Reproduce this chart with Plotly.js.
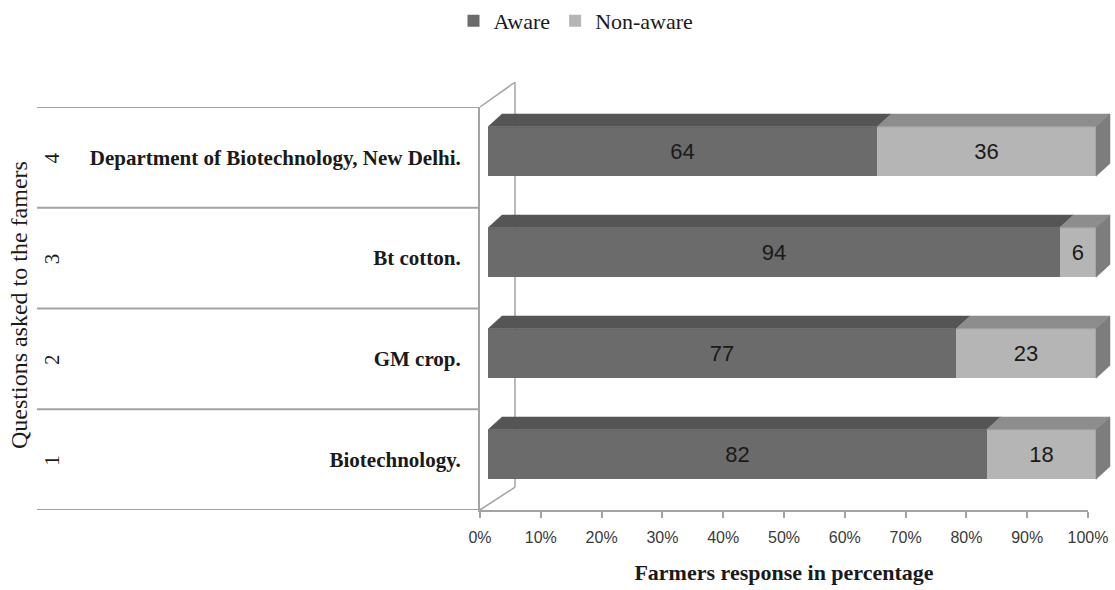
<!DOCTYPE html>
<html>
<head>
<meta charset="utf-8">
<script src="https://cdn.plot.ly/plotly-3.0.1.min.js"></script>
<style>html,body{margin:0;padding:0;background:#fff;}#chart{width:1115px;height:590px;}</style>
</head>
<body>
<div id="chart"></div>
<script>
// ---- data ----
const questionNumbers = ['1', '2', '3', '4'];
const questions = ['Biotechnology.', 'GM crop.', 'Bt cotton.', 'Department of Biotechnology, New Delhi.'];
const aware = [82, 77, 94, 64];
const nonAware = [18, 23, 6, 36];
const seriesNames = ['Aware', 'Non-aware'];
const xTickVals = [0, 10, 20, 30, 40, 50, 60, 70, 80, 90, 100];
const xTickText = ['0%', '10%', '20%', '30%', '40%', '50%', '60%', '70%', '80%', '90%', '100%'];

// ---- style ----
const serif = 'Liberation Serif, Times New Roman, serif';
const sans = 'Liberation Sans, Arial, sans-serif';
const frontDark = '#6b6b6b', topDark = '#555555';
const frontLight = '#b5b5b5', topLight = '#8d8d8d', sideLight = '#7d7d7d';
const gridGray = '#a3a3a3';
const barW = 0.49;      // bar thickness (category units)
const depthX = 2.3;     // 3D depth offset (axis units)
const depthY = 0.127;

const pos = questions.map((_, i) => i);
const totals = aware.map((a, i) => a + nonAware[i]);

function quadTrace(buildFn, color) {
  const xs = [], ys = [];
  pos.forEach(i => {
    const q = buildFn(i);
    q.forEach(p => { xs.push(p[0]); ys.push(p[1]); });
    xs.push(q[0][0]); ys.push(q[0][1]);
    xs.push(null); ys.push(null);
  });
  return {
    type: 'scatter', mode: 'lines', x: xs, y: ys, xaxis: 'x2', yaxis: 'y2',
    fill: 'toself', fillcolor: color, line: {color: color, width: 0.5},
    hoverinfo: 'skip', showlegend: false, connectgaps: false
  };
}

const labelFont = {family: sans, size: 22, color: '#1a1a1a'};
const traces = [
  {
    type: 'bar', orientation: 'h', name: seriesNames[0], x: aware, y: pos,
    xaxis: 'x2', yaxis: 'y2', width: barW,
    marker: {color: frontDark, line: {width: 0}},
    text: aware.map(String), textposition: 'inside', insidetextanchor: 'middle',
    textfont: labelFont, constraintext: 'none', hoverinfo: 'x+y'
  },
  {
    type: 'bar', orientation: 'h', name: seriesNames[1], x: nonAware, y: pos,
    xaxis: 'x2', yaxis: 'y2', width: barW,
    marker: {color: frontLight, line: {width: 0}},
    text: nonAware.map(String), textposition: 'inside', insidetextanchor: 'middle',
    textfont: labelFont, constraintext: 'none', hoverinfo: 'x+y'
  },
  // top faces (aware)
  quadTrace(i => {
    const yt = i + barW / 2;
    return [[0, yt], [aware[i], yt], [aware[i] + depthX, yt + depthY], [depthX, yt + depthY]];
  }, topDark),
  // top faces (non-aware)
  quadTrace(i => {
    const yt = i + barW / 2;
    return [[aware[i], yt], [totals[i], yt], [totals[i] + depthX, yt + depthY], [aware[i] + depthX, yt + depthY]];
  }, topLight),
  // right side faces
  quadTrace(i => {
    const yt = i + barW / 2, yb = i - barW / 2;
    return [[totals[i], yt], [totals[i] + depthX, yt + depthY], [totals[i] + depthX, yb + depthY], [totals[i], yb]];
  }, sideLight)
];

const W = 635; // plot width in px (1115 - 480)
const annotations = questionNumbers.map((n, i) => ({
  text: n, xref: 'paper', yref: 'y', x: (52 - 480) / W, y: i,
  showarrow: false, textangle: -90, xanchor: 'center', yanchor: 'middle',
  font: {family: serif, size: 21, color: '#1a1a1a'}
}));
annotations.push({
  text: 'Questions asked to the famers', xref: 'paper', yref: 'paper',
  x: (19 - 480) / W, y: (510 - 303) / 407, showarrow: false, textangle: -90,
  xanchor: 'center', yanchor: 'middle',
  font: {family: serif, size: 24, color: '#1a1a1a'}
});

const shapes = [];
[-0.5, 0.5, 1.5, 2.5, 3.5].forEach(yv => {
  shapes.push({type: 'line', xref: 'paper', yref: 'y', x0: (37 - 480) / W, x1: 0, y0: yv, y1: yv,
    line: {color: gridGray, width: 2}, layer: 'below'});
});
const backX = (515 - 480) / W;
const backTop = (510 - 78) / 407, backBot = (510 - 487) / 407;
shapes.push({type: 'line', xref: 'paper', yref: 'paper', x0: 0, y0: 1, x1: backX, y1: backTop,
  line: {color: gridGray, width: 1.5}, layer: 'below'});
shapes.push({type: 'line', xref: 'paper', yref: 'paper', x0: 0, y0: 0, x1: backX, y1: backBot,
  line: {color: gridGray, width: 1.5}, layer: 'below'});
shapes.push({type: 'line', xref: 'paper', yref: 'paper', x0: backX, y0: backTop, x1: backX, y1: backBot,
  line: {color: gridGray, width: 1.5}, layer: 'below'});

const layout = {
  width: 1115, height: 590,
  margin: {l: 480, r: 0, t: 103, b: 80},
  paper_bgcolor: '#ffffff', plot_bgcolor: 'rgba(0,0,0,0)',
  barmode: 'stack', bargap: 0,
  showlegend: true,
  legend: {
    orientation: 'h', x: (576 - 480) / W, xanchor: 'center', y: (510 - 16) / 407, yanchor: 'middle',
    font: {family: serif, size: 22, color: '#1a1a1a'}, traceorder: 'normal',
    itemwidth: 30
  },
  xaxis: {
    domain: [0, 608 / W], range: [0, 100], tickvals: xTickVals, ticktext: xTickText,
    showgrid: false, zeroline: false, showline: true, linecolor: gridGray, linewidth: 1.5,
    ticks: 'outside', ticklen: 6, tickcolor: gridGray, tickwidth: 1.5,
    tickfont: {family: sans, size: 16, color: '#3a3a3a'}, ticklabelstandoff: 6,
    title: {text: 'Farmers response in percentage', font: {family: serif, size: 22, color: '#1a1a1a', weight: 'bold'}, standoff: 20},
    fixedrange: true
  },
  yaxis: {
    range: [-0.5, 3.5], tickvals: pos, ticktext: questions,
    showgrid: false, zeroline: false, showline: true, linecolor: gridGray, linewidth: 2,
    ticks: '', tickfont: {family: serif, size: 21, color: '#1a1a1a', weight: 'bold'},
    ticklabelstandoff: 13, fixedrange: true
  },
  xaxis2: {
    anchor: 'y2', domain: [1.92 / W, 634.24 / W], range: [-1, 103],
    visible: false, fixedrange: true
  },
  yaxis2: {
    anchor: 'x2', domain: [0, 1], range: [-0.549, 3.441], visible: false, fixedrange: true
  },
  annotations: annotations,
  shapes: shapes
};

Plotly.newPlot('chart', traces, layout, {displayModeBar: false, responsive: false});
</script>
</body>
</html>
